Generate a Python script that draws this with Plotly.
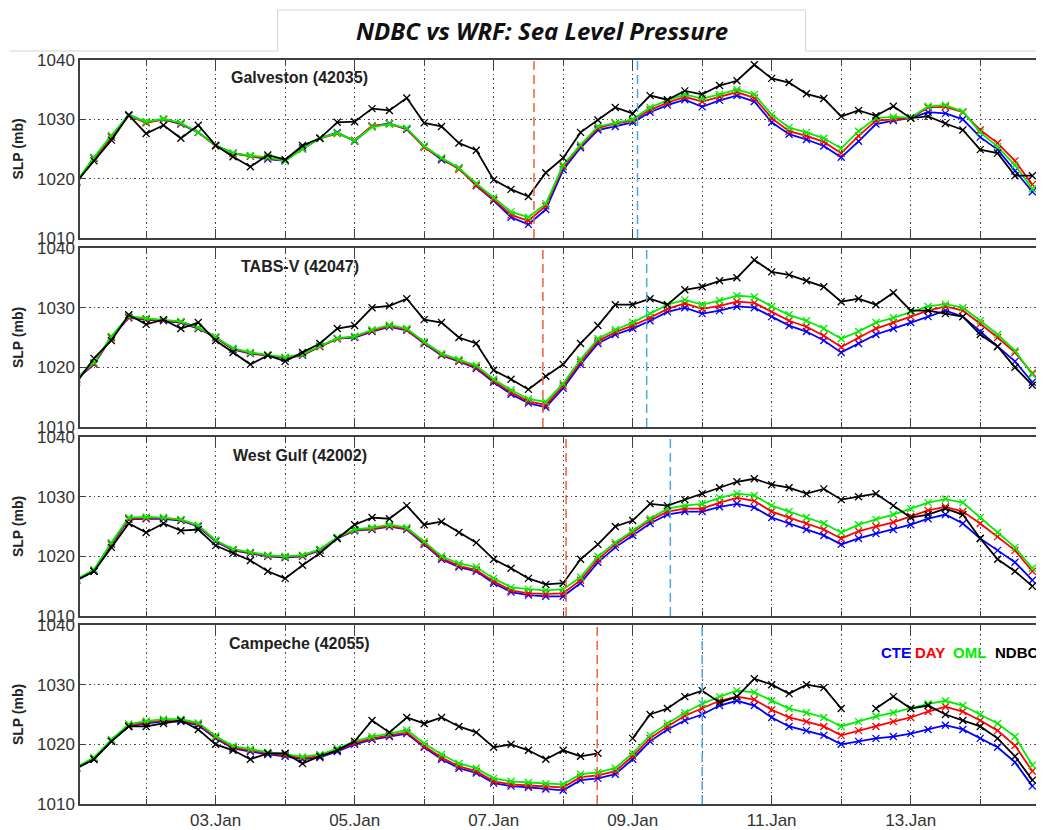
import pandas as pd
import plotly.graph_objects as go

# ---------------- data (6-hourly) ----------------
times = pd.date_range("2010-01-01 00:00", periods=56, freq="6h")

stations = ["Galveston (42035)", "TABS-V (42047)", "West Gulf (42002)", "Campeche (42055)"]

p1_cte = [1019.3, 1023.5, 1027.0, 1030.8, 1029.5, 1030.0, 1029.2, 1027.8, 1025.6, 1024.3, 1023.8, 1023.3, 1023.0, 1025.2,
          1026.8, 1027.8, 1026.3, 1028.8, 1029.3, 1028.3, 1025.4, 1023.2, 1021.8, 1018.8, 1016.3, 1013.5, 1012.3, 1014.8,
          1021.5, 1025.2, 1028.2, 1028.8, 1029.5, 1031.2, 1032.4, 1033.3, 1032.1, 1033.2, 1034.0, 1033.0, 1029.5, 1027.5,
          1026.6, 1025.5, 1023.6, 1026.3, 1029.2, 1029.8, 1030.2, 1031.2, 1031.0, 1030.0, 1027.0, 1024.9, 1021.3, 1017.8]
p1_day = [1019.4, 1023.4, 1027.0, 1030.6, 1029.4, 1030.0, 1029.3, 1027.8, 1025.5, 1024.2, 1023.8, 1023.5, 1023.1, 1025.0,
          1026.8, 1027.6, 1026.5, 1028.9, 1029.2, 1028.4, 1025.3, 1023.4, 1021.6, 1018.9, 1016.5, 1013.9, 1012.9, 1015.4,
          1022.0, 1025.5, 1028.5, 1029.3, 1029.8, 1031.6, 1032.8, 1033.8, 1033.0, 1033.8, 1034.6, 1033.6, 1030.2, 1028.0,
          1027.2, 1026.2, 1024.3, 1027.2, 1029.8, 1030.0, 1030.2, 1032.0, 1032.1, 1031.2, 1028.2, 1026.0, 1023.0, 1019.0]
p1_oml = [1019.6, 1023.6, 1027.3, 1030.7, 1029.6, 1030.1, 1029.4, 1027.8, 1025.6, 1024.3, 1023.9, 1023.6, 1023.0, 1025.0,
          1026.8, 1027.7, 1026.4, 1028.7, 1029.2, 1028.5, 1025.5, 1023.5, 1021.8, 1019.2, 1016.8, 1014.4, 1013.5, 1015.8,
          1022.3, 1025.7, 1028.8, 1029.4, 1030.0, 1032.0, 1033.2, 1034.2, 1033.5, 1034.2, 1035.0, 1034.2, 1030.8, 1028.6,
          1027.8, 1026.8, 1025.1, 1028.0, 1030.2, 1030.4, 1030.3, 1032.2, 1032.4, 1031.3, 1027.8, 1025.4, 1022.3, 1018.3]
p1_ndbc = [1019.5, 1023.0, 1026.5, 1030.7, 1027.6, 1029.0, 1026.8, 1029.0, 1025.6, 1023.7, 1022.0, 1024.0, 1023.2, 1025.6,
           1026.8, 1029.5, 1029.6, 1031.8, 1031.5, 1033.6, 1029.4, 1028.8, 1026.0, 1024.8, 1019.8, 1018.2, 1017.0, 1021.0,
           1023.5, 1027.8, 1029.9, 1032.0, 1031.0, 1034.0, 1033.3, 1034.8, 1034.2, 1035.7, 1036.5, 1039.2, 1036.9, 1036.2,
           1034.3, 1033.5, 1030.5, 1031.5, 1030.6, 1032.2, 1030.2, 1030.5, 1029.3, 1028.2, 1024.9, 1024.3, 1020.5, 1020.5]

p2_cte = [1018.0, 1020.5, 1025.0, 1028.3, 1028.0, 1027.8, 1027.5, 1026.5, 1025.0, 1023.0, 1022.3, 1022.0, 1021.5, 1022.0,
          1023.5, 1024.8, 1025.0, 1026.0, 1026.8, 1026.2, 1024.0, 1022.0, 1021.0, 1019.8, 1017.5, 1015.5, 1014.0, 1013.3,
          1016.5, 1020.5, 1024.0, 1025.5, 1026.5, 1027.8, 1029.3, 1030.0, 1029.0, 1029.5, 1030.2, 1030.0, 1028.5, 1027.0,
          1026.0, 1024.5, 1022.5, 1024.0, 1025.5, 1026.5, 1027.5, 1028.5, 1029.5, 1028.5, 1026.0, 1023.5, 1021.0, 1017.5]
p2_day = [1018.1, 1020.6, 1025.0, 1028.4, 1028.1, 1027.9, 1027.6, 1026.6, 1025.0, 1023.1, 1022.4, 1022.0, 1021.6, 1022.1,
          1023.5, 1024.8, 1025.1, 1026.1, 1026.9, 1026.3, 1024.1, 1022.1, 1021.1, 1020.0, 1017.7, 1015.8, 1014.3, 1013.7,
          1016.9, 1020.9, 1024.4, 1025.9, 1027.0, 1028.3, 1029.8, 1030.7, 1029.8, 1030.3, 1031.0, 1030.8, 1029.3, 1027.8,
          1026.8, 1025.3, 1023.4, 1025.0, 1026.5, 1027.5, 1028.5, 1029.5, 1030.2, 1029.5, 1027.3, 1025.0, 1022.5, 1019.0]
p2_oml = [1018.2, 1020.8, 1025.2, 1028.6, 1028.2, 1028.0, 1027.7, 1026.7, 1025.1, 1023.2, 1022.5, 1022.1, 1021.7, 1022.2,
          1023.6, 1024.9, 1025.2, 1026.3, 1027.1, 1026.5, 1024.3, 1022.3, 1021.3, 1020.3, 1018.0, 1016.2, 1014.7, 1014.2,
          1017.3, 1021.3, 1024.8, 1026.3, 1027.5, 1029.0, 1030.5, 1031.3, 1030.5, 1031.2, 1032.0, 1031.8, 1030.2, 1028.8,
          1027.8, 1026.5, 1024.8, 1026.0, 1027.5, 1028.3, 1029.3, 1030.2, 1030.6, 1030.0, 1027.8, 1025.5, 1022.8, 1018.8]
p2_ndbc = [1017.5, 1021.5, 1024.5, 1028.8, 1027.2, 1028.0, 1026.5, 1027.5, 1024.5, 1022.5, 1020.5, 1022.0, 1021.0, 1022.5,
           1024.0, 1026.5, 1027.0, 1030.0, 1030.3, 1031.5, 1028.0, 1027.5, 1025.0, 1024.0, 1019.5, 1018.0, 1016.3, 1018.5,
           1020.5, 1024.0, 1027.0, 1030.5, 1030.5, 1031.5, 1030.5, 1033.0, 1033.5, 1034.5, 1035.0, 1038.0, 1036.0, 1035.5,
           1034.5, 1033.5, 1031.0, 1031.5, 1030.5, 1032.5, 1029.5, 1029.5, 1029.0, 1028.5, 1025.5, 1023.5, 1020.0, 1017.0]

p3_cte = [1016.0, 1017.5, 1022.0, 1026.2, 1026.3, 1026.3, 1026.0, 1025.0, 1022.5, 1021.0, 1020.5, 1020.0, 1019.8, 1020.0,
          1021.0, 1023.0, 1024.3, 1024.5, 1025.0, 1024.5, 1022.0, 1019.5, 1018.2, 1017.5, 1015.5, 1014.0, 1013.5, 1013.3,
          1013.3, 1015.5, 1019.0, 1021.5, 1023.5, 1025.5, 1027.0, 1027.5, 1027.5, 1028.3, 1028.8, 1028.2, 1026.5, 1025.5,
          1024.5, 1023.5, 1022.0, 1023.0, 1023.8, 1024.5, 1025.3, 1026.3, 1027.0, 1025.5, 1023.0, 1021.0, 1019.0, 1016.0]
p3_day = [1016.1, 1017.6, 1022.1, 1026.3, 1026.4, 1026.4, 1026.1, 1025.1, 1022.6, 1021.1, 1020.6, 1020.1, 1019.9, 1020.1,
          1021.1, 1023.1, 1024.4, 1024.6, 1025.1, 1024.6, 1022.2, 1019.7, 1018.4, 1017.7, 1015.8, 1014.3, 1013.8, 1013.7,
          1013.8, 1016.0, 1019.5, 1022.0, 1024.0, 1026.0, 1027.5, 1028.0, 1028.0, 1029.0, 1029.8, 1029.3, 1027.5, 1026.5,
          1025.5, 1024.5, 1023.0, 1024.2, 1025.0, 1025.7, 1026.7, 1027.7, 1028.3, 1027.5, 1025.5, 1023.3, 1021.0, 1017.5]
p3_oml = [1016.2, 1017.8, 1022.3, 1026.5, 1026.6, 1026.5, 1026.2, 1025.2, 1022.7, 1021.2, 1020.7, 1020.2, 1020.0, 1020.2,
          1021.2, 1023.2, 1024.5, 1024.8, 1025.3, 1024.8, 1022.5, 1020.0, 1018.8, 1018.2, 1016.3, 1014.8, 1014.5, 1014.3,
          1014.5, 1016.5, 1020.0, 1022.3, 1024.3, 1026.3, 1028.0, 1028.5, 1028.8, 1029.8, 1030.5, 1030.2, 1028.5, 1027.5,
          1026.5, 1025.5, 1024.0, 1025.3, 1026.2, 1027.0, 1028.0, 1029.0, 1029.6, 1029.0, 1026.5, 1024.0, 1021.5, 1018.0]
p3_ndbc = [1016.0, 1017.5, 1021.5, 1025.5, 1024.0, 1025.5, 1024.3, 1024.5, 1021.8, 1020.5, 1019.3, 1017.5, 1016.3, 1018.5,
           1020.5, 1023.0, 1025.3, 1026.5, 1026.3, 1028.5, 1025.3, 1025.8, 1024.0, 1022.3, 1019.5, 1018.0, 1016.3, 1015.3,
           1015.5, 1019.5, 1022.0, 1025.0, 1026.0, 1028.8, 1028.5, 1029.5, 1030.5, 1031.5, 1032.5, 1033.0, 1032.0, 1031.5,
           1030.5, 1031.3, 1029.5, 1030.0, 1030.5, 1028.5, 1026.5, 1027.0, 1028.0, 1027.0, 1023.0, 1019.5, 1017.5, 1015.0]

p4_cte = [1016.0, 1017.5, 1020.5, 1023.0, 1023.5, 1023.8, 1023.8, 1023.2, 1021.0, 1019.3, 1018.8, 1018.3, 1018.0, 1017.5,
          1017.8, 1018.8, 1020.0, 1020.8, 1021.3, 1021.8, 1019.5, 1017.5, 1016.0, 1015.2, 1013.5, 1013.0, 1012.8, 1012.5,
          1012.3, 1014.0, 1014.3, 1015.0, 1017.5, 1020.5, 1022.5, 1024.0, 1025.0, 1026.5, 1027.3, 1026.5, 1024.5, 1023.0,
          1022.3, 1021.5, 1020.0, 1020.5, 1021.0, 1021.3, 1021.8, 1022.5, 1023.2, 1022.5, 1021.0, 1019.5, 1017.0, 1013.0]
p4_day = [1016.1, 1017.6, 1020.6, 1023.2, 1023.7, 1024.0, 1024.0, 1023.4, 1021.2, 1019.5, 1019.0, 1018.5, 1018.2, 1017.7,
          1018.0, 1019.0, 1020.2, 1021.0, 1021.5, 1022.0, 1019.7, 1017.8, 1016.3, 1015.5, 1013.8, 1013.3, 1013.1, 1012.9,
          1012.8, 1014.5, 1014.8, 1015.5, 1018.0, 1021.0, 1023.0, 1024.8, 1026.0, 1027.3, 1028.0, 1027.5, 1025.8, 1024.5,
          1023.8, 1023.0, 1021.5, 1022.3, 1023.0, 1023.8, 1024.5, 1025.5, 1026.3, 1025.5, 1024.0, 1022.3, 1019.8, 1015.5]
p4_oml = [1016.2, 1017.8, 1020.8, 1023.4, 1023.9, 1024.2, 1024.2, 1023.6, 1021.4, 1019.7, 1019.2, 1018.7, 1018.4, 1017.9,
          1018.3, 1019.3, 1020.5, 1021.3, 1021.8, 1022.4, 1020.2, 1018.3, 1016.8, 1016.0, 1014.3, 1013.8, 1013.6, 1013.4,
          1013.3, 1015.0, 1015.3, 1016.0, 1018.5, 1021.5, 1023.5, 1025.3, 1026.8, 1028.0, 1029.0, 1028.7, 1027.3, 1026.0,
          1025.3, 1024.5, 1023.0, 1023.8, 1024.7, 1025.3, 1026.0, 1026.8, 1027.3, 1026.5, 1025.0, 1023.5, 1021.3, 1016.5]
p4_ndbc = [1016.0, 1017.5, 1020.5, 1023.0, 1023.0, 1023.5, 1024.0, 1022.5, 1020.0, 1019.0, 1017.5, 1018.5, 1018.5, 1016.8,
           1018.0, 1019.0, 1020.5, 1024.0, 1022.0, 1024.5, 1023.5, 1024.5, 1023.0, 1022.0, 1019.5, 1020.0, 1019.0, 1017.5,
           1019.0, 1018.0, 1018.5, None, 1021.0, 1025.0, 1026.0, 1028.0, 1029.0, 1027.0, 1028.0, 1031.0, 1030.0, 1028.5,
           1030.0, 1029.5, 1026.0, None, 1026.0, 1028.0, 1026.0, 1026.5, 1025.0, 1024.0, 1023.0, 1021.0, 1018.0, 1014.0]

series_names = ["CTE", "DAY", "OML", "NDBC"]
panel_values = [
    [p1_cte, p1_day, p1_oml, p1_ndbc],
    [p2_cte, p2_day, p2_oml, p2_ndbc],
    [p3_cte, p3_day, p3_oml, p3_ndbc],
    [p4_cte, p4_day, p4_oml, p4_ndbc],
]
# event markers (red / blue dashed lines) per panel
red_times = ["2010-01-07 13:55", "2010-01-07 17:00", "2010-01-08 01:00", "2010-01-08 11:45"]
blue_times = ["2010-01-09 01:40", "2010-01-09 04:50", "2010-01-09 13:00", "2010-01-10 00:00"]

# ---------------- styling ----------------
colors = {"CTE": "#0000ff", "DAY": "#ff0000", "OML": "#00ee00", "NDBC": "#000000"}
OFF = 8                      # default page margin of the html body
PW, PH = 1044, 830           # page (window) size
FW, FH = PW - OFF, PH - OFF  # figure size so that it ends exactly at the window edge
PX0, PX1 = 80, 1044          # plot area, page pixels
PY0, PY1 = 60, 804
panel_px = [(60, 238), (248, 427), (437, 616), (625, 804)]


def px(x):
    return (x - PX0) / (PX1 - PX0)


def py(y):
    return (PY1 - y) / (PY1 - PY0)


fig = go.Figure()
axis_col = "#404040"
grid_col = "#4a4a4a"
gdash = "1.5px,3px"
font_fam = "Liberation Sans, Arial"
xr = ["2010-01-01 01:10", "2010-01-14 21:20"]

for i, vals in enumerate(panel_values):
    xa = "x" if i == 0 else f"x{i+1}"
    ya = "y" if i == 0 else f"y{i+1}"
    for name, v in zip(series_names, vals):
        fig.add_trace(go.Scatter(
            x=times, y=v, mode="lines+markers", name=name, showlegend=False,
            xaxis=xa, yaxis=ya, connectgaps=False,
            line=dict(color=colors[name], width=1.8),
            marker=dict(symbol="x-thin", size=7, line=dict(color=colors[name], width=1.3)),
        ))
    top, bot = panel_px[i]
    last = i == 3
    xkey = "xaxis" if i == 0 else f"xaxis{i+1}"
    ykey = "yaxis" if i == 0 else f"yaxis{i+1}"
    fig.layout[xkey] = dict(
        type="date", range=xr, domain=[0, 1], anchor=ya,
        tickformat="%d.%b", tick0="2010-01-03", dtick=2 * 86400000,
        ticks="inside", ticklen=9, tickwidth=1.3, tickcolor=axis_col,
        showticklabels=last, tickfont=dict(family=font_fam, size=17, color="#333333"),
        showgrid=True, gridcolor=grid_col, griddash=gdash, gridwidth=1,
        minor=dict(dtick=86400000, tick0="2010-01-02", ticks="inside", ticklen=5, tickwidth=1.3, tickcolor=axis_col,
                   showgrid=True, gridcolor=grid_col, griddash=gdash, gridwidth=1),
        showline=True, linecolor=axis_col, linewidth=1.5, mirror="allticks", zeroline=False,
    )
    fig.layout[ykey] = dict(
        range=[1010, 1040], domain=[py(bot), py(top)], anchor=xa,
        tickvals=[1010, 1020, 1030, 1040], ticks="inside", ticklen=6, tickwidth=1.3, tickcolor=axis_col,
        tickfont=dict(family=font_fam, size=17, color="#333333"),
        showgrid=True, gridcolor=grid_col, griddash=gdash, gridwidth=1,
        showline=True, linecolor=axis_col, linewidth=1.5, mirror="allticks", zeroline=False,
        title=dict(text="<b>SLP (mb)</b>", font=dict(family=font_fam, size=14, color="#222222"), standoff=10),
    )
    # station name
    fig.add_annotation(text=f"<b>{stations[i]}</b>", xref="paper", yref="paper", xanchor="center", yanchor="middle",
                       x=px(300), y=py(top + 18), showarrow=False,
                       font=dict(family=font_fam, size=16, color="#222222"))
    # event lines
    for t, c in ((red_times[i], "#f0603c"), (blue_times[i], "#4aa8e0")):
        fig.add_shape(type="line", xref=xa, yref=f"{ya} domain", x0=t, x1=t, y0=0, y1=1,
                      line=dict(color=c, width=1.5, dash="9px,5px"))

# legend text in bottom panel
leg_x = [898, 932, 971, 1018]
for name, lx in zip(series_names, leg_x):
    fig.add_annotation(text=f"<b>{name}</b>", xref="paper", yref="paper", xanchor="center", yanchor="middle",
                       x=px(lx), y=py(652), showarrow=False,
                       font=dict(family=font_fam, size=15, color=colors[name]))

# title tab
fig.add_shape(type="path", xref="paper", yref="paper",
              path="M {a},{yb} L {b},{yb} L {b},{yt} L {c},{yt} L {c},{yb} L {d},{yb}".format(
                  a=px(9), b=px(278), c=px(807), d=px(1044), yb=py(51), yt=py(10)),
              line=dict(color="#d4d4d4", width=1))
fig.add_annotation(text="<b><i>NDBC vs WRF: Sea Level Pressure</i></b>", xref="paper", yref="paper",
                   xanchor="center", yanchor="middle", x=px(543), y=py(31), showarrow=False,
                   font=dict(family="Open Sans", size=24, color="#111111"))

fig.update_layout(width=FW, height=FH,
                  margin=dict(l=PX0 - OFF, r=PW - PX1, t=PY0 - OFF, b=PH - PY1),
                  paper_bgcolor="white", plot_bgcolor="white", showlegend=False)
fig.write_html("out.html")
